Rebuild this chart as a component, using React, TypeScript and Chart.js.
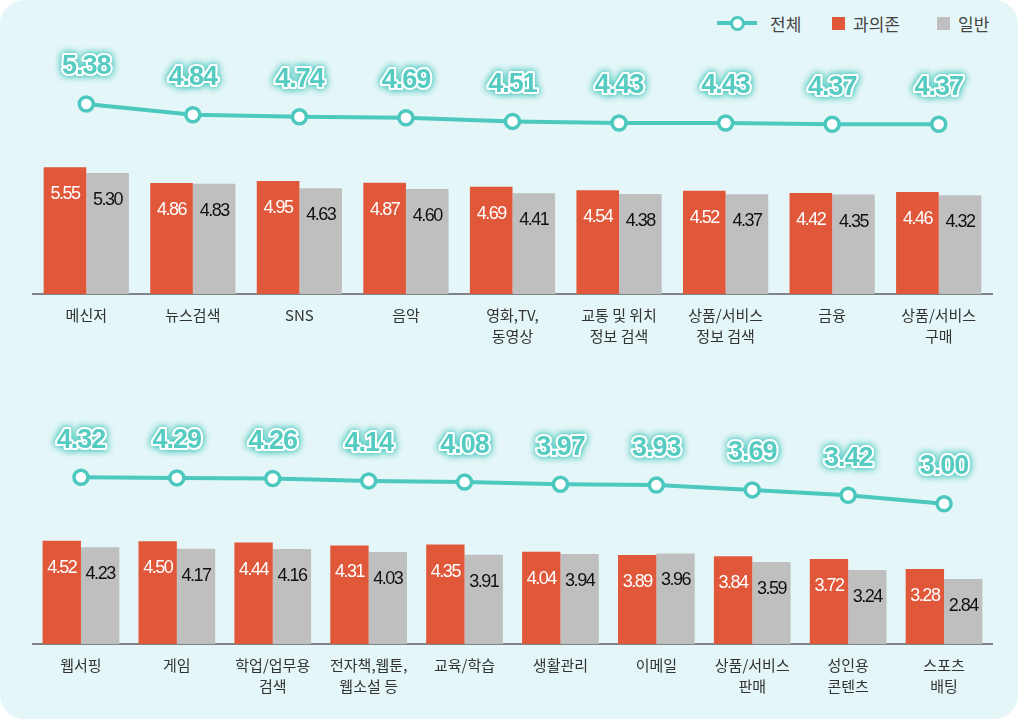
import React, { useEffect, useRef } from "react";
import { Chart, registerables } from "chart.js";

Chart.register(...registerables);

const topCategories: string[][] = [["메신저"], ["뉴스검색"], ["SNS"], ["음악"], ["영화,TV,", "동영상"], ["교통 및 위치", "정보 검색"], ["상품/서비스", "정보 검색"], ["금융"], ["상품/서비스", "구매"]];
const topTotal = [5.38, 4.84, 4.74, 4.69, 4.51, 4.43, 4.43, 4.37, 4.37];
const topAddicted = [5.55, 4.86, 4.95, 4.87, 4.69, 4.54, 4.52, 4.42, 4.46];
const topGeneral = [5.3, 4.83, 4.63, 4.6, 4.41, 4.38, 4.37, 4.35, 4.32];

const bottomCategories: string[][] = [["웹서핑"], ["게임"], ["학업/업무용", "검색"], ["전자책,웹툰,", "웹소설 등"], ["교육/학습"], ["생활관리"], ["이메일"], ["상품/서비스", "판매"], ["성인용", "콘텐츠"], ["스포츠", "배팅"]];
const bottomTotal = [4.32, 4.29, 4.26, 4.14, 4.08, 3.97, 3.93, 3.69, 3.42, 3.0];
const bottomAddicted = [4.52, 4.5, 4.44, 4.31, 4.35, 4.04, 3.89, 3.84, 3.72, 3.28];
const bottomGeneral = [4.23, 4.17, 4.16, 4.03, 3.91, 3.94, 3.96, 3.59, 3.24, 2.84];

const seriesNames = ["전체", "과의존", "일반"];

const TEAL = "#4cc8be";
const RED = "#e1573a";
const GRAY = "#bfbfbf";
const BG = "#e4f6f7";

const labelPlugin = {
  id: "valueLabels",
  afterDatasetsDraw(chart: any) {
    const ctx = chart.ctx as CanvasRenderingContext2D;
    ctx.save();
    [1, 2].forEach((di) => {
      const meta = chart.getDatasetMeta(di);
      const ds = chart.data.datasets[di];
      meta.data.forEach((el: any, i: number) => {
        const v = ds.data[i] as number;
        ctx.font = "18px 'Liberation Sans', Arial, sans-serif";
        (ctx as any).letterSpacing = "-1.5px";
        ctx.textAlign = "center";
        ctx.textBaseline = "middle";
        ctx.fillStyle = di === 1 ? "#ffffff" : "#111111";
        ctx.fillText(v.toFixed(2), el.x, el.y + 27);
      });
    });
    const meta = chart.getDatasetMeta(0);
    const ds = chart.data.datasets[0];
    meta.data.forEach((el: any, i: number) => {
      const v = ds.data[i] as number;
      const txt = v.toFixed(2);
      const y = el.y - 37;
      ctx.font = "bold 27px 'Liberation Sans', Arial, sans-serif";
      (ctx as any).letterSpacing = "-1px";
      ctx.textAlign = "center";
      ctx.textBaseline = "middle";
      ctx.lineJoin = "round";
      ctx.shadowColor = "rgba(76,200,190,0.95)";
      ctx.shadowBlur = 7;
      ctx.strokeStyle = "#ffffff";
      ctx.lineWidth = 4;
      ctx.strokeText(txt, el.x, y);
      ctx.strokeText(txt, el.x, y);
      ctx.shadowBlur = 0;
      ctx.shadowColor = "transparent";
      ctx.fillStyle = "#55cbc1";
      ctx.fillText(txt, el.x, y);
    });
    ctx.restore();
  },
};

type PanelProps = {
  top: number;
  height: number;
  categories: string[][];
  total: number[];
  addicted: number[];
  general: number[];
  lineMin: number;
  lineMax: number;
};

function Panel(props: PanelProps) {
  const ref = useRef<HTMLCanvasElement>(null);
  useEffect(() => {
    if (!ref.current) return;
    const axisHeight = props.height - 294;
    const chart = new Chart(ref.current, {
      type: "bar",
      data: {
        labels: props.categories,
        datasets: [
          {
            type: "line",
            label: seriesNames[0],
            data: props.total,
            yAxisID: "y2",
            borderColor: TEAL,
            borderWidth: 4,
            pointRadius: 7,
            pointBorderWidth: 3.5,
            pointBackgroundColor: "#ffffff",
            pointBorderColor: TEAL,
            tension: 0,
            order: 0,
          } as any,
          {
            type: "bar",
            label: seriesNames[1],
            data: props.addicted,
            yAxisID: "y",
            backgroundColor: RED,
            categoryPercentage: 0.8,
            barPercentage: 1,
            order: 1,
          },
          {
            type: "bar",
            label: seriesNames[2],
            data: props.general,
            yAxisID: "y",
            backgroundColor: GRAY,
            categoryPercentage: 0.8,
            barPercentage: 1,
            order: 1,
          },
        ],
      },
      options: {
        responsive: false,
        animation: false,
        layout: { padding: { left: 33, right: 32, top: 40, bottom: 0 } },
        plugins: { legend: { display: false }, tooltip: { enabled: false } },
        scales: {
          x: {
            grid: { display: false, drawTicks: false },
            border: { display: true, color: "#7d8588", width: 2 },
            ticks: {
              color: "#333333",
              padding: 10,
              maxRotation: 0,
              autoSkip: false,
              font: { family: "'Noto Sans CJK KR', sans-serif", size: 15, lineHeight: 1.45 },
            },
            afterFit: (scale: any) => {
              scale.height = axisHeight;
            },
          },
          y: { display: false, min: 0, max: 254 / 22.85 },
          y2: { display: false, min: props.lineMin, max: props.lineMax },
        },
      },
      plugins: [labelPlugin],
    });
    return () => chart.destroy();
  }, []);
  return (
    <canvas
      ref={ref}
      width={1024}
      height={props.height}
      style={{ position: "absolute", left: 0, top: props.top, display: "block" }}
    />
  );
}

function LegendItem(props: { kind: "line" | "box"; color: string; text: string; left: number }) {
  return (
    <div style={{ position: "absolute", left: props.left, top: 10, height: 26, display: "flex", alignItems: "center" }}>
      {props.kind === "line" ? (
        <div style={{ position: "relative", width: 40, height: 26 }}>
          <div style={{ position: "absolute", left: 0, top: 11, width: 40, height: 4, background: props.color }} />
          <div
            style={{
              position: "absolute",
              left: 13,
              top: 6,
              width: 9,
              height: 9,
              borderRadius: "50%",
              background: "#fff",
              border: `3.5px solid ${props.color}`,
            }}
          />
        </div>
      ) : (
        <div style={{ width: 13, height: 13, background: props.color }} />
      )}
      <span
        style={{
          marginLeft: props.kind === "line" ? 13 : 8,
          fontFamily: "'Noto Sans CJK KR', sans-serif",
          fontSize: 17,
          color: "#444",
        }}
      >
        {props.text}
      </span>
    </div>
  );
}

export default function App() {
  const topZero = 104 + 5.38 * 20;
  const botZero = 477.3 - 350 + 4.32 * 20;
  return (
    <div style={{ position: "absolute", left: 0, top: 0, width: 1024, height: 723, background: "#ffffff", overflow: "hidden" }}>
      <div style={{ position: "absolute", left: 0, top: 0, width: 1018, height: 719, background: BG, borderRadius: 24 }} />
      <LegendItem kind="line" color={TEAL} text={seriesNames[0]} left={717} />
      <LegendItem kind="box" color={RED} text={seriesNames[1]} left={832} />
      <LegendItem kind="box" color={GRAY} text={seriesNames[2]} left={937} />
      <Panel
        top={0}
        height={360}
        categories={topCategories}
        total={topTotal}
        addicted={topAddicted}
        general={topGeneral}
        lineMin={(topZero - 294) / 20}
        lineMax={(topZero - 40) / 20}
      />
      <Panel
        top={350}
        height={373}
        categories={bottomCategories}
        total={bottomTotal}
        addicted={bottomAddicted}
        general={bottomGeneral}
        lineMin={(botZero - 294) / 20}
        lineMax={(botZero - 40) / 20}
      />
    </div>
  );
}
